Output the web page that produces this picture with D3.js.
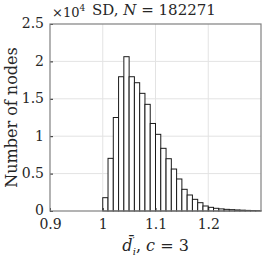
<!DOCTYPE html>
<html>
<head>
<meta charset="utf-8">
<script src="https://cdn.jsdelivr.net/npm/d3@7"></script>
<style>
  body { margin: 0; background: #fff; }
</style>
</head>
<body>
<svg id="chart" width="266" height="260"></svg>
<script>
// histogram bins: left edges and counts (x10^4)
var binStart = 1.0, binWidth = 0.01;
var counts = [0.178, 0.704, 1.25, 1.795, 2.063, 1.795, 1.715, 1.573, 1.426, 1.17,
              1.025, 0.838, 0.699, 0.561, 0.428, 0.29, 0.214, 0.156, 0.111, 0.067,
              0.049, 0.036, 0.028, 0.022, 0.018, 0.014, 0.011, 0.008, 0.006, 0.005];
var xTicks = [0.9, 1, 1.1, 1.2];
var yTicks = [0, 0.5, 1, 1.5, 2, 2.5];

var serif = "DejaVu Serif";
var m = {left: 50, right: 5, top: 24, bottom: 49};
var W = 266, H = 260;
var vis = d3.select("#chart");

var x = d3.scaleLinear().domain([0.9, 1.3]).range([m.left, W - m.right]);
var y = d3.scaleLinear().domain([0, 2.5]).range([H - m.bottom, m.top]);

// grid
vis.append("g").selectAll("line").data(xTicks.slice(1)).enter().append("line")
  .attr("x1", function(d){return x(d);}).attr("x2", function(d){return x(d);})
  .attr("y1", y(0)).attr("y2", y(2.5))
  .attr("stroke", "#e3e3e3").attr("stroke-width", 1);
vis.append("g").selectAll("line").data(yTicks.slice(1, -1)).enter().append("line")
  .attr("y1", function(d){return y(d);}).attr("y2", function(d){return y(d);})
  .attr("x1", x(0.9)).attr("x2", x(1.3))
  .attr("stroke", "#e3e3e3").attr("stroke-width", 1);

// bars
var bins = counts.map(function(c, i){ return {x0: binStart + i * binWidth, v: c}; });
vis.append("g").selectAll("rect").data(bins).enter().append("rect")
  .attr("x", function(d){return x(d.x0);})
  .attr("width", function(d){return x(d.x0 + binWidth) - x(d.x0);})
  .attr("y", function(d){return y(d.v);})
  .attr("height", function(d){return y(0) - y(d.v);})
  .attr("fill", "#fff").attr("stroke", "#1a1a1a").attr("stroke-width", 1);

// axes (ticks pointing in)
var xAxis = d3.axisBottom(x).tickValues(xTicks).tickSizeInner(-3).tickSizeOuter(0)
  .tickFormat(function(d){return +d.toFixed(1);}).tickPadding(7);
var yAxis = d3.axisLeft(y).tickValues(yTicks).tickSizeInner(-3).tickSizeOuter(0)
  .tickFormat(function(d){return +d.toFixed(1);}).tickPadding(6);

var gx = vis.append("g").attr("transform", "translate(0," + y(0) + ")").call(xAxis);
var gy = vis.append("g").attr("transform", "translate(" + x(0.9) + ",0)").call(yAxis);
[gx, gy].forEach(function(g){
  g.attr("font-family", serif).attr("font-size", 14);
  g.select(".domain").remove();
  g.selectAll(".tick line").attr("stroke", "#262626");
  g.selectAll("text").attr("fill", "#262626");
});
gx.selectAll("text").attr("dy", "0.8em");
gy.selectAll("text").attr("dy", "0.28em");

// box
vis.append("rect").attr("x", x(0.9)).attr("y", y(2.5))
  .attr("width", x(1.3) - x(0.9)).attr("height", y(0) - y(2.5))
  .attr("fill", "none").attr("stroke", "#808080").attr("stroke-width", 1.2);

// exponent + title
var ex = vis.append("text").attr("x", 52).attr("y", 17)
  .attr("font-family", serif).attr("font-size", 13).attr("fill", "#262626");
ex.append("tspan").text("×10");
ex.append("tspan").attr("dy", -6).attr("font-size", 9).text("4");

var t = vis.append("text").attr("x", 92).attr("y", 15)
  .attr("font-family", serif).attr("font-size", 15).attr("fill", "#262626");
t.append("tspan").text("SD, ");
t.append("tspan").attr("font-style", "italic").text("N");
t.append("tspan").text(" = 182271");

// y label
vis.append("text").attr("transform", "translate(17," + ((y(0) + y(2.5)) / 2) + ") rotate(-90)")
  .attr("text-anchor", "middle").attr("font-family", serif).attr("font-size", 16)
  .attr("fill", "#262626").text("Number of nodes");

// x label
var xl = vis.append("text").attr("x", (x(0.9) + x(1.3)) / 2).attr("y", 251)
  .attr("text-anchor", "middle").attr("font-family", serif).attr("font-size", 16)
  .attr("fill", "#262626");
xl.append("tspan").attr("font-style", "italic").text("d\u0304");
xl.append("tspan").attr("font-size", 10).attr("dy", -7).text("\u2032");
xl.append("tspan").attr("font-style", "italic").attr("font-size", 10).attr("dy", 11).attr("dx", -2).text("i");
xl.append("tspan").attr("dy", -4).text(", ");
xl.append("tspan").attr("font-style", "italic").text("c");
xl.append("tspan").text(" = 3");
</script>
</body>
</html>
